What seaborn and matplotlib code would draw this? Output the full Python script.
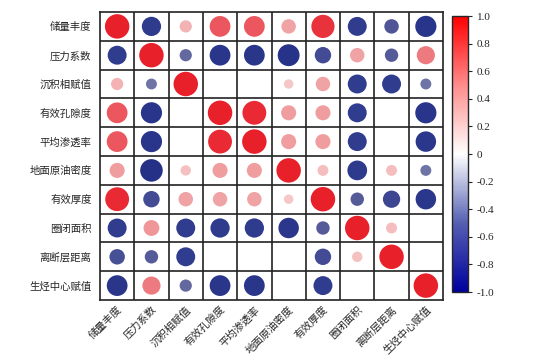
import numpy as np
import pandas as pd
import matplotlib
matplotlib.use("Agg")
import matplotlib.pyplot as plt
import seaborn as sns
from matplotlib.colors import LinearSegmentedColormap, Normalize
from matplotlib.cm import ScalarMappable

labels = ["储量丰度", "压力系数", "沉积相赋值", "有效孔隙度", "平均渗透率",
          "地面原油密度", "有效厚度", "圈闭面积", "离断层距离", "生烃中心赋值"]
nan = np.nan
row_cl = [1.00, -0.62, 0.25, 0.72, 0.72, 0.35, 0.90, -0.60, -0.35, -0.75]
row_yl = [-0.60, 1.00, -0.25, -0.72, -0.72, -0.80, -0.45, 0.35, -0.30, 0.55]
row_cj = [0.25, -0.20, 1.00, nan, nan, 0.15, 0.35, -0.60, -0.60, -0.20]
row_kx = [0.72, -0.75, nan, 1.00, 0.95, 0.38, 0.38, -0.60, nan, -0.75]
row_st = [0.72, -0.75, nan, 0.95, 1.00, 0.38, 0.38, -0.60, nan, -0.70]
row_md = [0.38, -0.85, 0.18, 0.38, 0.38, 1.00, 0.20, -0.65, 0.20, -0.20]
row_hd = [0.95, -0.45, 0.35, 0.35, 0.35, 0.15, 1.00, -0.30, -0.50, -0.70]
row_mj = [-0.60, 0.42, -0.60, -0.62, -0.62, -0.70, -0.30, 1.00, 0.20, nan]
row_dc = [-0.40, -0.30, -0.60, nan, nan, nan, -0.45, 0.18, 1.00, nan]
row_sc = [-0.72, 0.55, -0.25, -0.72, -0.72, nan, -0.60, nan, nan, 1.00]
rows = [row_cl, row_yl, row_cj, row_kx, row_st, row_md, row_hd, row_mj, row_dc, row_sc]

recs = []
for i, r in enumerate(rows):
    for j, v in enumerate(r):
        if not np.isnan(v):
            recs.append({"row": i, "col": j, "r": v, "a": abs(v)})
df = pd.DataFrame(recs)

# colours of circles (muted) and of colour bar (vivid)
circ_cmap = LinearSegmentedColormap.from_list(
    "circ", [(0, "#1e2a82"), (0.2, "#303c8e"), (0.35, "#555a98"), (0.42, "#7a7eab"),
             (0.5, "#ffffff"), (0.58, "#f6c4c4"), (0.7, "#ef9a9c"), (0.85, "#ec5c64"),
             (1, "#e8202a")])
bar_cmap = LinearSegmentedColormap.from_list(
    "bar", [(0, "#00009e"), (0.25, "#5560b2"), (0.5, "#ffffff"), (0.75, "#ff8c8c"), (1, "#ff0000")])

sns.set_style("white")
plt.rcParams["font.family"] = ["Noto Sans CJK SC", "DejaVu Sans"]

fig = plt.figure(figsize=(5.38, 3.61), dpi=100)
ax = fig.add_axes([100/538, 1 - 300/361, 343/538, 288/361])
cax = fig.add_axes([452/538, 1 - 292/361, 16/538, 276/361])

sns.scatterplot(data=df, x="col", y="row", hue="r", palette=circ_cmap, hue_norm=(-1, 1),
                size="a", sizes=(0, 310), size_norm=(0, 1), legend=False,
                linewidth=0, ax=ax)

ax.set_xlim(-0.5, 9.5)
ax.set_ylim(9.5, -0.5)
ax.set_xticks(range(10))
ax.set_yticks(range(10))
ax.set_xticklabels(labels, rotation=45, ha="right", va="top", fontsize=7.5, rotation_mode="anchor")
ax.set_yticklabels(labels, fontsize=7.5)
ax.set_xlabel("")
ax.set_ylabel("")
ax.tick_params(axis="y", length=0, pad=6)
ax.tick_params(axis="x", length=0, pad=3)
for k in np.arange(0.5, 9.5, 1):
    ax.axvline(k, color="#222222", lw=1.2, zorder=0)
    ax.axhline(k, color="#222222", lw=1.2, zorder=0)
for s in ax.spines.values():
    s.set_color("#222222")
    s.set_linewidth(1.2)

sm = ScalarMappable(norm=Normalize(-1, 1), cmap=bar_cmap)
cb = fig.colorbar(sm, cax=cax, ticks=np.arange(-1, 1.01, 0.2))
cb.ax.set_yticklabels(["-1.0", "-0.8", "-0.6", "-0.4", "-0.2", "0", "0.2", "0.4", "0.6", "0.8", "1.0"],
                      family="Liberation Serif", fontsize=8)
cb.outline.set_linewidth(1)
cb.ax.tick_params(length=3, width=0.8)

fig.savefig("out.png", dpi=100)
